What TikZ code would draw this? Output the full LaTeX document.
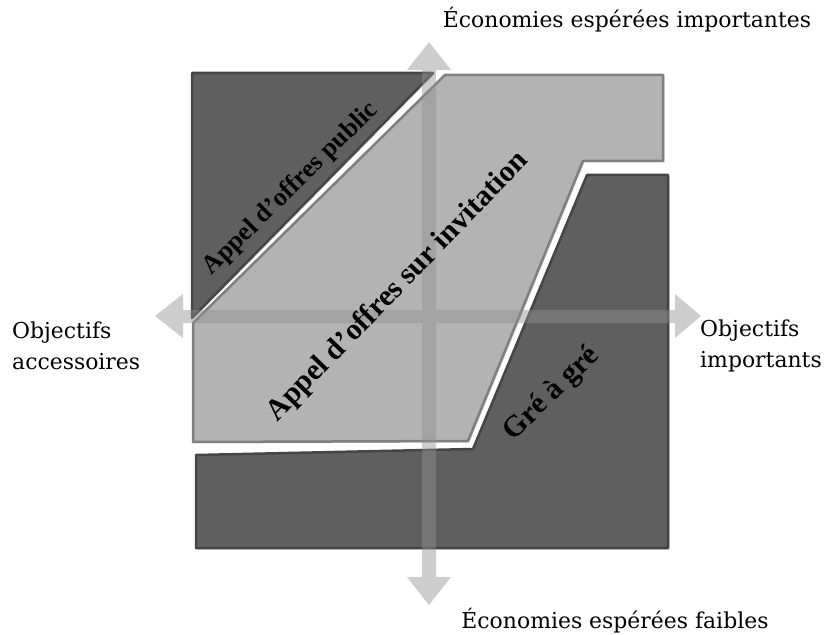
\documentclass[tikz,border=0pt]{standalone}
\usepackage{fontspec}
\setmainfont{DejaVu Serif}
\newfontfamily\zonefont{Liberation Serif}
\usetikzlibrary{shadows}

\definecolor{zonedark}{HTML}{5F5F5F}
\definecolor{edgedark}{HTML}{454545}
\definecolor{zonelight}{HTML}{B3B3B3}
\definecolor{edgelight}{HTML}{7F7F7F}
\definecolor{axisgray}{HTML}{909090}

\tikzset{
  zone/.style={line width=2.5bp, line join=round,
    drop shadow={shadow xshift=1.5bp, shadow yshift=-1.5bp, opacity=0.25}},
  zone dark/.style={zone, fill=zonedark, draw=edgedark},
  zone light/.style={zone, fill=zonelight, draw=edgelight},
  axis/.style={fill=axisgray, fill opacity=0.45},
  zone label/.style={font=\zonefont\bfseries\fontsize{#1}{#1}\selectfont, inner sep=0pt},
  side label/.style={font=\fontsize{22}{31}\selectfont, align=left, inner sep=0pt},
  end label/.style={font=\fontsize{22}{22}\selectfont, anchor=base, inner sep=0pt}
}

\begin{document}
\begin{tikzpicture}[x=1bp, y=-1bp]
        \useasboundingbox (0,0) rectangle (827,635);

        % Zones
        \draw[zone dark] (192,73) -- (433,73) -- (192,318) -- cycle;
        \draw[zone light] (193,323) -- (445,75) -- (663,75) -- (663,161)
              -- (583,161) -- (468,441) -- (193,442) -- cycle;
        \draw[zone dark] (587,175) -- (668,175) -- (668,548) -- (196,548)
              -- (196,455) -- (473,449) -- cycle;

        % Axes (one cross so the middle is not filled twice)
        \fill[axis] (429,42) -- (451,70) -- (436,70) -- (436,310) -- (675,310)
              -- (675,294) -- (701,316) -- (675,338) -- (675,323) -- (436,323)
              -- (436,577) -- (451,577) -- (429,605) -- (407,577) -- (422,577)
              -- (422,323) -- (183,323) -- (183,338) -- (155,316) -- (183,294)
              -- (183,310) -- (422,310) -- (422,70) -- (407,70) -- cycle;

        % Zone names
        \node[zone label=26, rotate=44.5] (public) at (291,189) {Appel d’offres public};
        \node[zone label=30, rotate=46] (invitation) at (398,287) {Appel d’offres sur invitation};
        \node[zone label=30, rotate=44] (gre) at (552,394) {Gré à gré};

        % Axis ends
        \node[end label] (ecohaut) at (627,28) {Économies espérées importantes};
        \node[end label] (ecobas) at (615,628) {Économies espérées faibles};
        \node[side label, anchor=west] (accessoires) at (12,346) {Objectifs\\accessoires};
        \node[side label, anchor=west] (importants) at (700,346) {Objectifs\\importants};

\end{tikzpicture}
\end{document}
